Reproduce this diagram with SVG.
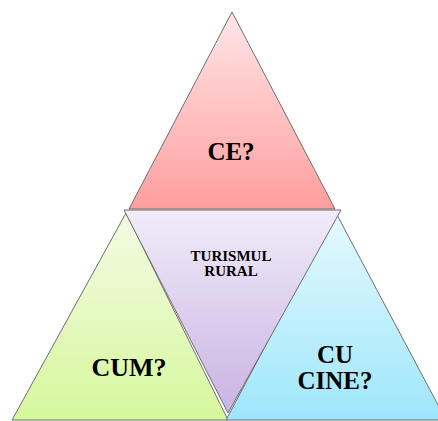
<svg xmlns="http://www.w3.org/2000/svg" width="438" height="421" viewBox="0 0 438 421">
<defs>
<linearGradient id="gPink" x1="0" y1="0" x2="0" y2="1"><stop offset="0" stop-color="#ffe6e8"/><stop offset="1" stop-color="#ff9e9e"/></linearGradient>
<linearGradient id="gPurple" x1="0" y1="0" x2="0" y2="1"><stop offset="0" stop-color="#f0ecf9"/><stop offset="1" stop-color="#c9b3e3"/></linearGradient>
<linearGradient id="gGreen" x1="0" y1="0" x2="0" y2="1"><stop offset="0" stop-color="#f3fbe4"/><stop offset="1" stop-color="#d6f79c"/></linearGradient>
<linearGradient id="gBlue" x1="0" y1="0" x2="0" y2="1"><stop offset="0" stop-color="#e6f9fe"/><stop offset="1" stop-color="#9ee6fb"/></linearGradient>
</defs>
<style>
.tri{stroke:#6f6f6f;stroke-width:1;stroke-linejoin:miter}
.lbl{font-family:"Liberation Serif","Times New Roman",serif;font-weight:bold;fill:#000;text-anchor:middle}
</style>
<rect width="438" height="421" fill="#ffffff"/>
<g id="ce">
<polygon class="tri" points="232,12 129,209 335,209" fill="url(#gPink)"/>
<text class="lbl" x="231" y="160" font-size="25">CE?</text>
</g>
<g id="cum">
<polygon class="tri" points="126,213 12,420 228,420" fill="url(#gGreen)"/>
<text class="lbl" x="129" y="376" font-size="26">CUM?</text>
</g>
<g id="cucine">
<polygon class="tri" points="336,213 226,420 446,420" fill="url(#gBlue)"/>
<text class="lbl" x="335" y="363" font-size="25">CU</text>
<text class="lbl" x="335" y="389" font-size="25">CINE?</text>
</g>
<g id="turismul">
<polygon class="tri" points="124,210 341,210 228,413" fill="url(#gPurple)"/>
<text class="lbl" x="231" y="261" font-size="15">TURISMUL</text>
<text class="lbl" x="231" y="276" font-size="15">RURAL</text>
</g>
<g id="connectors"></g>
</svg>
